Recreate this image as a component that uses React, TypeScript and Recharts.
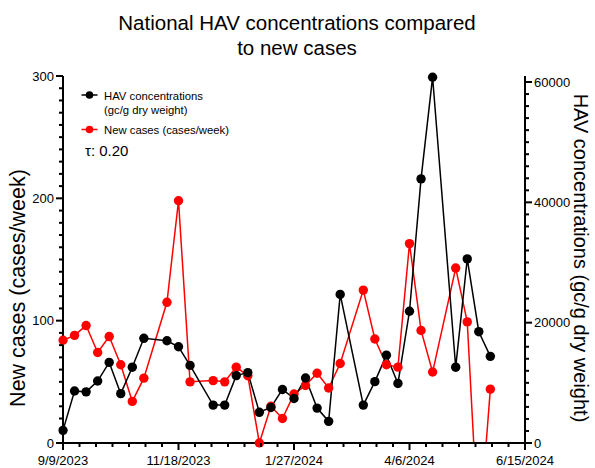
import React from "react";
import { LineChart, Line, XAxis, YAxis } from "recharts";

// week number since 9/9/2023 for each sample (some weeks have no sample)
const weekIndex = [
  0, 1, 2, 3, 4, 5, 6, 7, 9, 10, 11, 13, 14, 15, 16, 17, 18, 19, 20, 21, 22,
  23, 24, 26, 27, 28, 29, 30, 31, 32, 34, 35, 36, 37,
];

// HAV concentrations (gc/g dry weight)
const havConc = [
  2100, 8650, 8500, 10300, 13400, 8200, 12600, 17400, 17000, 16000, 12900,
  6300, 6300, 11200, 11700, 5100, 5900, 8900, 7400, 10800, 5800, 3600, 24700,
  6300, 10200, 14600, 9900, 21900, 43900, 60800, 12600, 30600, 18500, 14400,
];

// New cases (cases/week)
const newCases = [
  84, 88, 96, 74, 87, 64, 34, 53, 115, 198, 50, 51, 50, 62, 55, 0, 30, 20, 40,
  47, 57, 45, 65, 125, 85, 64, 62, 163, 92, 58, 143, 99, -78, 44,
];

const dateLabels = ["9/9/2023", "11/18/2023", "1/27/2024", "4/6/2024", "6/15/2024"];
const casesLabels = [0, 100, 200, 300];
const havLabels = [0, 20000, 40000, 60000];

const data = weekIndex.map((w, i) => ({
  day: w * 7,
  hav: havConc[i],
  cases: newCases[i],
}));

const FONT = "'Liberation Sans', Arial, Helvetica, sans-serif";

// tick positions incl. minor ticks
const steps = (max: number, step: number) =>
  Array.from({ length: max / step + 1 }, (_, i) => i * step);
const xTicks = steps(280, 10);
const leftTicks = steps(300, 10);
const rightTicks = steps(60000, 2000);

const XTick = (props: any) => {
  const { x, y, payload } = props;
  const major = payload.value % 70 === 0;
  return (
    <g>
      <line x1={x} x2={x} y1={y} y2={y + (major ? 7 : 4)} stroke="#000" strokeWidth={2} />
      {major && (
        <text x={x} y={y + 22} textAnchor="middle" fontSize={13} fontFamily={FONT} fill="#000">
          {dateLabels[payload.value / 70]}
        </text>
      )}
    </g>
  );
};

const LeftTick = (props: any) => {
  const { x, y, payload } = props;
  const major = casesLabels.includes(payload.value);
  return (
    <g>
      <line x1={x - (major ? 7 : 4)} x2={x} y1={y} y2={y} stroke="#000" strokeWidth={2} />
      {major && (
        <text x={x - 9} y={y + 4.5} textAnchor="end" fontSize={13} fontFamily={FONT} fill="#000">
          {payload.value}
        </text>
      )}
    </g>
  );
};

const RightTick = (props: any) => {
  const { x, y, payload } = props;
  const major = havLabels.includes(payload.value);
  return (
    <g>
      <line x1={x} x2={x + (major ? 7 : 4)} y1={y} y2={y} stroke="#000" strokeWidth={2} />
      {major && (
        <text x={x + 9} y={y + 4.5} textAnchor="start" fontSize={13} fontFamily={FONT} fill="#000">
          {payload.value}
        </text>
      )}
    </g>
  );
};

export default function App() {
  return (
    <div style={{ position: "absolute", left: 0, top: 0, width: 595, height: 468, background: "#fff" }}>
      <LineChart
        width={595}
        height={468}
        data={data}
        margin={{ top: 76, right: 10, bottom: 0, left: 8 }}
      >
        <XAxis
          dataKey="day"
          type="number"
          domain={[0, 280]}
          ticks={xTicks}
          interval={0}
          height={25}
          tickSize={0}
          tickMargin={0}
          tick={<XTick />}
          axisLine={{ stroke: "#000", strokeWidth: 2 }}
        />
        <YAxis
          yAxisId="cases"
          orientation="left"
          domain={[0, 300]}
          allowDataOverflow
          ticks={leftTicks}
          interval={0}
          width={55}
          tickSize={0}
          tickMargin={0}
          tick={<LeftTick />}
          axisLine={{ stroke: "#000", strokeWidth: 2 }}
        />
        <YAxis
          yAxisId="hav"
          orientation="right"
          domain={[0, 61000]}
          allowDataOverflow
          ticks={rightTicks}
          interval={0}
          width={60}
          tickSize={0}
          tickMargin={0}
          tick={<RightTick />}
          axisLine={{ stroke: "#000", strokeWidth: 2 }}
        />
        <Line
          yAxisId="cases"
          dataKey="cases"
          stroke="#ff0000"
          strokeWidth={1.5}
          dot={{ r: 4.7, fill: "#ff0000", stroke: "#ff0000", strokeWidth: 0, clipDot: false }}
          isAnimationActive={false}
        />
        <Line
          yAxisId="hav"
          dataKey="hav"
          stroke="#000"
          strokeWidth={1.5}
          dot={{ r: 4.7, fill: "#000", stroke: "#000", strokeWidth: 0, clipDot: false }}
          isAnimationActive={false}
        />
      </LineChart>

      {/* title, legend and axis titles */}
      <svg
        width={595}
        height={468}
        style={{ position: "absolute", left: 0, top: 0, pointerEvents: "none" }}
        fontFamily={FONT}
      >
        <text x={297} y={30} textAnchor="middle" fontSize={20.5} fill="#000">
          National HAV concentrations compared
        </text>
        <text x={297} y={55} textAnchor="middle" fontSize={20.5} fill="#000">
          to new cases
        </text>

        <line x1={81.5} x2={97.5} y1={95} y2={95} stroke="#000" strokeWidth={1.5} />
        <circle cx={89.5} cy={95} r={3.8} fill="#000" />
        <text x={104} y={99.5} fontSize={11.3} fill="#000">HAV concentrations</text>
        <text x={104} y={113.5} fontSize={11.3} fill="#000">(gc/g dry weight)</text>

        <line x1={81.5} x2={97.5} y1={129.5} y2={129.5} stroke="#ff0000" strokeWidth={1.5} />
        <circle cx={89.5} cy={129.5} r={3.8} fill="#ff0000" />
        <text x={104} y={133.5} fontSize={11.3} fill="#000">New cases (cases/week)</text>

        <text x={85} y={156} fontSize={15} fill="#000">τ: 0.20</text>

        <text
          transform="translate(25, 288) rotate(-90)"
          textAnchor="middle"
          fontSize={21.5}
          fill="#000"
        >
          New cases (cases/week)
        </text>
        <text
          transform="translate(574, 258) rotate(90)"
          textAnchor="middle"
          fontSize={20}
          fill="#000"
        >
          HAV concentrations (gc/g dry weight)
        </text>
      </svg>
    </div>
  );
}
